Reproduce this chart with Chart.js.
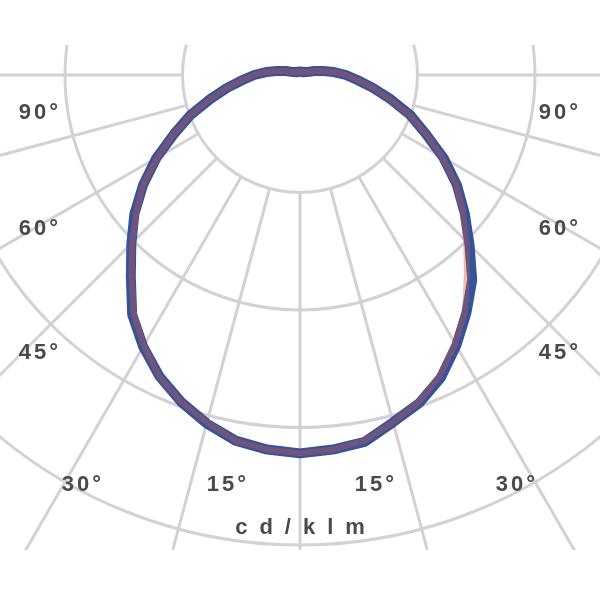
<!DOCTYPE html>
<html>
<head>
<meta charset="utf-8">
<script src="https://cdn.jsdelivr.net/npm/chart.js@4.4.1/dist/chart.umd.min.js"></script>
<style>
  html, body { margin: 0; padding: 0; background: #fff; }
  #wrap { width: 600px; height: 600px; }
</style>
</head>
<body>
<div id="wrap"><canvas id="polarChart" width="600" height="600"></canvas></div>
<script>
// gamma angle, measured from nadir (0° = straight down)
const gammaAngles = [0, 5, 10, 15, 20, 25, 30, 35, 40, 45, 50, 55, 60, 65, 70, 75, 80, 85, 90,
                     95, 100, 105, 110, 115, 120, 125, 130, 135, 140, 145, 150, 155, 160, 165, 170, 175, 180];

// intensities in cd/klm
const c0Values   = [322, 320, 316, 306, 296, 282, 264, 245, 221, 200, 181, 162, 140, 118, 99, 79, 63, 49, 39,
                    29, 20, 13, 8, 6, 5, 4, 4, 4, 3, 3, 3, 3, 3, 3, 3, 3, 3];
const c180Values = [322, 320, 316, 306, 296, 283, 266, 247, 223, 202, 182, 163, 140, 118, 99, 79, 63, 49, 39,
                    29, 20, 13, 8, 6, 5, 4, 4, 4, 3, 3, 3, 3, 3, 3, 3, 3, 3];
const c90Values  = [322, 320, 317, 306, 297, 284, 266, 247, 228, 204, 183, 163, 141, 118, 100, 80, 63, 49, 39,
                    29, 20, 13, 8, 6, 5, 4, 4, 4, 3, 3, 3, 3, 3, 3, 3, 3, 3];
const c270Values = [322, 320, 316, 307, 296, 283, 267, 249, 224, 203, 184, 163, 141, 118, 99, 79, 63, 49, 39,
                    29, 20, 13, 8, 6, 5, 4, 4, 4, 3, 3, 3, 3, 3, 3, 3, 3, 3];

const ringValues = [100, 200, 300, 400, 500];
const spokeStep = 15;
const leftLabels = ['90°', '60°', '45°'];
const rightLabels = ['90°', '60°', '45°'];
const bottomLabels = ['30°', '15°', '15°', '30°'];
const unitLabel = 'cd/klm';

const PX_PER_CD = 1.175;

// builds a closed outline: right half (C0 / C90) then left half (C180 / C270)
function outline(rightVals, leftVals) {
    const pts = [];
    for (let i = gammaAngles.length - 1; i >= 0; i--) {
        const g = gammaAngles[i] * Math.PI / 180;
        pts.push({ x: rightVals[i] * Math.sin(g), y: -rightVals[i] * Math.cos(g) });
    }
    for (let i = 1; i < gammaAngles.length; i++) {
        const g = gammaAngles[i] * Math.PI / 180;
        pts.push({ x: -leftVals[i] * Math.sin(g), y: -leftVals[i] * Math.cos(g) });
    }
    return pts;
}

// ─── polar grid + labels ───
const polarGrid = {
    id: 'polarGrid',
    beforeDatasetsDraw(chart) {
        const { ctx, chartArea, scales: { x, y } } = chart;
        const cx = x.getPixelForValue(0);
        const cy = y.getPixelForValue(0);
        const unit = x.getPixelForValue(1) - cx;
        ctx.save();
        ctx.beginPath();
        ctx.rect(chartArea.left, chartArea.top, chartArea.right - chartArea.left, chartArea.bottom - chartArea.top);
        ctx.clip();
        ctx.strokeStyle = '#d2d2d2';
        ctx.lineWidth = 3;
        ringValues.forEach(v => {
            ctx.beginPath();
            ctx.arc(cx, cy, v * unit, 0, Math.PI * 2);
            ctx.stroke();
        });
        const r0 = ringValues[0] * unit;
        const r1 = 900;
        for (let a = 0; a < 360; a += spokeStep) {
            const t = a * Math.PI / 180;
            ctx.beginPath();
            ctx.moveTo(cx + r0 * Math.sin(t), cy + r0 * Math.cos(t));
            ctx.lineTo(cx + r1 * Math.sin(t), cy + r1 * Math.cos(t));
            ctx.stroke();
        }
        ctx.restore();
    },
    afterDraw(chart) {
        const { ctx } = chart;
        ctx.save();
        ctx.fillStyle = '#4a4a4a';
        ctx.font = 'bold 22px "Liberation Sans", Arial, sans-serif';
        ctx.textAlign = 'center';
        ctx.textBaseline = 'middle';
        ctx.letterSpacing = '3px';
        const sideY = [113, 229, 353];
        leftLabels.forEach((t, i) => ctx.fillText(t, 40, sideY[i]));
        rightLabels.forEach((t, i) => ctx.fillText(t, 560, sideY[i]));
        const bottomX = [83, 228, 376, 517];
        bottomLabels.forEach((t, i) => ctx.fillText(t, bottomX[i], 485));
        ctx.letterSpacing = '12px';
        ctx.fillText(unitLabel, 306, 528);
        ctx.restore();
    }
};

new Chart(document.getElementById('polarChart'), {
    type: 'scatter',
    data: {
        datasets: [
            {
                label: 'C0 - C180',
                data: outline(c0Values, c180Values),
                showLine: true,
                borderColor: 'rgba(200, 90, 80, 0.4)',
                borderWidth: 6,
                borderJoinStyle: 'round',
                borderCapStyle: 'round',
                pointRadius: 0,
                tension: 0
            },
            {
                label: 'C90 - C270',
                data: outline(c90Values, c270Values),
                showLine: true,
                borderColor: '#34539a',
                borderWidth: 10,
                borderJoinStyle: 'round',
                borderCapStyle: 'round',
                pointRadius: 0,
                tension: 0
            }
        ]
    },
    options: {
        responsive: false,
        animation: false,
        layout: { padding: { top: 45, bottom: 50, left: 0, right: 0 } },
        scales: {
            x: { type: 'linear', display: false, min: -300 / PX_PER_CD, max: 300 / PX_PER_CD },
            y: { type: 'linear', display: false, min: -475 / PX_PER_CD, max: 30 / PX_PER_CD }
        },
        plugins: {
            legend: { display: false },
            tooltip: { enabled: false }
        }
    },
    plugins: [polarGrid]
});
</script>
</body>
</html>
